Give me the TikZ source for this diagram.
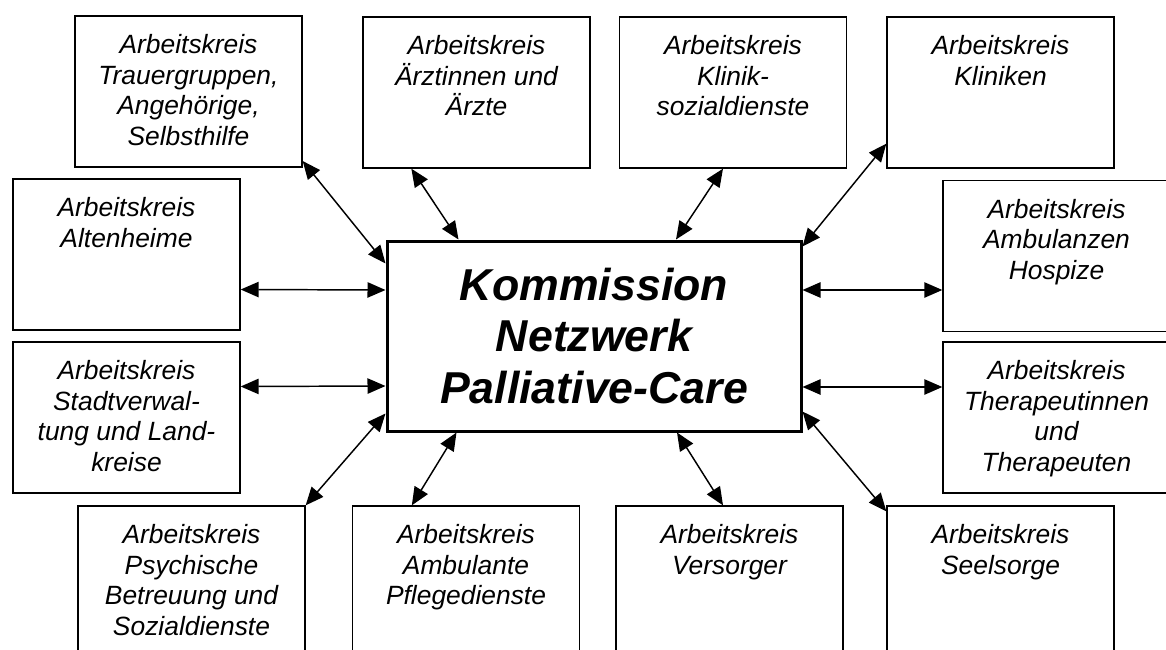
\documentclass[tikz,border=0pt]{standalone}
\usepackage{fontspec}
\setmainfont{Liberation Sans}
\usetikzlibrary{arrows.meta}

\newcommand{\aktext}[1]{\parbox[c][113.25pt][t]{170.25pt}{\centering\rule{0pt}{28.4pt}#1}}

\tikzstyle{akbox} = [draw, line width=1pt, inner sep=0pt, font=\itshape\fontsize{19.8}{22.8}\selectfont]
\tikzstyle{kommbox} = [draw, line width=2.25pt, minimum width=310.5pt, minimum height=142.5pt, align=center, font=\bfseries\itshape\fontsize{33.5}{38.6}\selectfont]
\tikzstyle{link} = [line width=1.1pt, {Triangle[length=13.5pt,width=11.5pt]}-{Triangle[length=13.5pt,width=11.5pt]}]

\begin{document}
\begin{tikzpicture}[x=0.75pt,y=-0.75pt]
      \useasboundingbox (0,0) rectangle (1166,649);

      \node[kommbox] (kommission) at (594,336) {Kommission\\Netzwerk\\Palliative-Care};

      \node[akbox] (trauer) at (188.5,91.5) {\aktext{Arbeitskreis\\Trauergruppen,\\Angehörige,\\Selbsthilfe}};
      \node[akbox] (aerzte) at (476.5,92.5) {\aktext{Arbeitskreis\\Ärztinnen und\\Ärzte}};
      \node[akbox] (kliniksoz) at (733,92.5) {\aktext{Arbeitskreis\\Klinik-\\sozialdienste}};
      \node[akbox] (kliniken) at (1000.5,92.5) {\aktext{Arbeitskreis\\Kliniken}};
      \node[akbox] (alten) at (126.5,254.5) {\aktext{Arbeitskreis\\Altenheime}};
      \node[akbox] (stadt) at (126.5,417.5) {\aktext{Arbeitskreis\\Stadtverwal-\\tung und Land-\\kreise}};
      \node[akbox] (ambhosp) at (1056.5,256) {\aktext{Arbeitskreis\\Ambulanzen\\Hospize}};
      \node[akbox] (therap) at (1056.5,417.5) {\aktext{Arbeitskreis\\Therapeutinnen\\und\\Therapeuten}};
      \node[akbox] (psych) at (191.5,581.5) {\aktext{Arbeitskreis\\Psychische\\Betreuung und\\Sozialdienste}};
      \node[akbox] (ambpflege) at (466,581.5) {\aktext{Arbeitskreis\\Ambulante\\Pflegedienste}};
      \node[akbox] (versorger) at (729.5,581.5) {\aktext{Arbeitskreis\\Versorger}};
      \node[akbox] (seelsorge) at (1000.5,581.5) {\aktext{Arbeitskreis\\Seelsorge}};

      \draw[link] ([yshift=5pt]trauer.south east) -- ([yshift=-18pt]kommission.north west);
      \draw[link] ([xshift=36.75pt]aerzte.south west) -- ([xshift=54.75pt]kommission.north west);
      \draw[link] ([xshift=-7.5pt]kliniksoz.south) -- ([xshift=61.5pt]kommission.north);
      \draw[link] ([yshift=18.75pt]kliniken.south west) -- ([yshift=-5.25pt]kommission.north east);
      \draw[link] ([yshift=-26.25pt]alten.east) -- ([yshift=34.5pt]kommission.west);
      \draw[link] ([yshift=23.25pt]stadt.east) -- ([yshift=-37.5pt]kommission.west);
      \draw[link] ([yshift=-25.5pt]ambhosp.west) -- ([yshift=34.5pt]kommission.east);
      \draw[link] ([yshift=22.875pt]therap.west) -- ([yshift=-38.25pt]kommission.east);
      \draw[link] ([yshift=14.25pt]kommission.south west) -- (psych.north east);
      \draw[link] ([xshift=53.25pt]kommission.south west) -- ([xshift=45pt]ambpflege.north west);
      \draw[link] ([xshift=62.25pt]kommission.south) -- ([xshift=-4.875pt]versorger.north);
      \draw[link] ([yshift=15.75pt]kommission.south east) -- ([yshift=-4.5pt]seelsorge.north west);
    \end{tikzpicture}
\end{document}
